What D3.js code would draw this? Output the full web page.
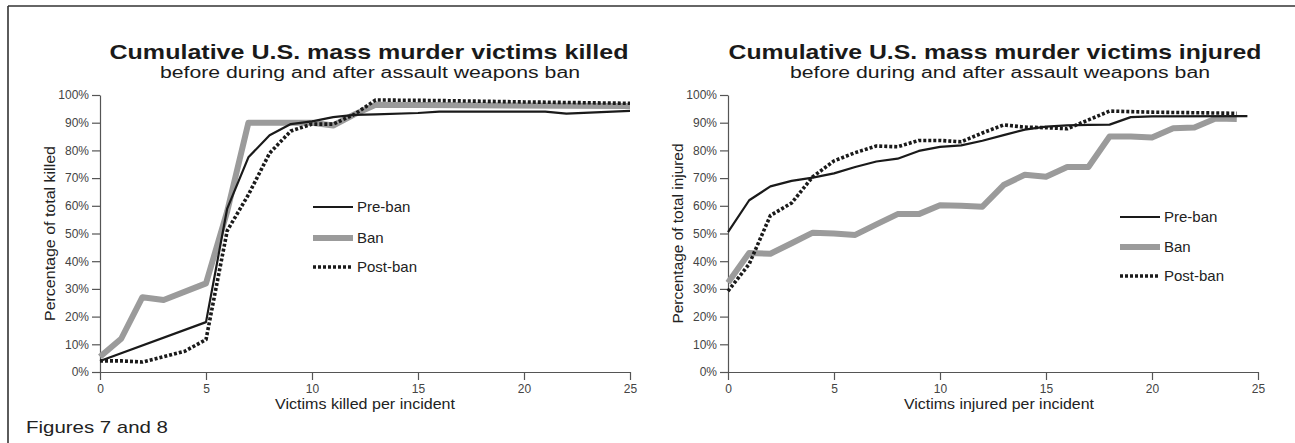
<!DOCTYPE html>
<html><head><meta charset="utf-8">
<script src="https://cdn.jsdelivr.net/npm/d3@7"></script>
<style>
body{margin:0;background:#fff}
svg{display:block}
text{font-family:"Liberation Sans",Arial,Helvetica,sans-serif}
</style>
</head><body>
<svg id="c" width="1295" height="443"></svg>
<script>
// ---- text ----
const titles = ["Cumulative U.S. mass murder victims killed", "Cumulative U.S. mass murder victims injured"];
const subtitle = "before during and after assault weapons ban";
const xTitles = ["Victims killed per incident", "Victims injured per incident"];
const yTitles = ["Percentage of total killed", "Percentage of total injured"];
const footnote = "Figures 7 and 8";
const seriesNames = ["Pre-ban", "Ban", "Post-ban"];

// ---- ticks ----
const xTicks = [0, 5, 10, 15, 20, 25];
const yTicks = [0, 10, 20, 30, 40, 50, 60, 70, 80, 90, 100];

// ---- data: [victims per incident, cumulative %] ----
const killedPreBan = [[0,4],[5,18],[6,59],[7,77.5],[8,85.5],[9,89.5],[10,90.5],[11,92],[12,92.8],[13,93],[15,93.5],[16,94],[21,94],[22,93.3],[25,94.3]];
const killedBan = [[0,5.5],[1,12],[2,27],[3,26],[5,32],[6,58],[7,90],[10,90],[11,89],[12,93],[13,96.5],[25,96]];
const killedPostBan = [[0,4],[1,4],[2,3.6],[3,5.5],[4,7.5],[5,11.7],[6,51],[7,64],[8,79],[9,87],[10,89.5],[11,89.5],[12,93],[13,98.2],[16,98],[20,97.5],[25,97]];

const injuredPreBan = [[0,50.5],[1,62],[2,67],[3,69],[4,70.2],[5,71.7],[6,74],[7,76],[8,77],[9,79.8],[10,81.3],[11,81.8],[12,83.5],[13,85.5],[14,87.5],[15,88.6],[16,89],[17,89.2],[18,89.3],[19,92],[20,92.3],[24.5,92.4]];
const injuredBan = [[0,32.2],[1,43],[2,42.7],[3,46.5],[4,50.3],[5,50],[6,49.5],[7,53.3],[8,57],[9,57],[10,60.2],[11,60],[12,59.7],[13,67.5],[14,71.2],[15,70.5],[16,74],[17,74],[18,85],[19,85],[20,84.7],[21,88],[22,88.3],[23,91.5],[24,91.3]];
const injuredPostBan = [[0,29.2],[1,39],[2,56.5],[3,61],[4,70.5],[5,76.2],[6,79.2],[7,81.6],[8,81.3],[9,83.6],[10,83.6],[11,83.1],[12,86.3],[13,89.2],[14,88.4],[15,88.2],[16,87.8],[17,91],[18,94.2],[19,94],[20,93.8],[22,93.6],[24,93.4]];

// ---- layout / style ----
const panels = [
  {x0:100, x1:630, title:titles[0], titleX:369, titleW:519, subX:370, xt:xTitles[0], xtX:365, xtW:180, yt:yTitles[0], ytX:55, ytW:175,
   series:[killedPreBan, killedBan, killedPostBan], legX:313, legY:[207,238,267]},
  {x0:728, x1:1258, title:titles[1], titleX:995, titleW:533, subX:1000, xt:xTitles[1], xtX:999, xtW:190, yt:yTitles[1], ytX:683, ytW:180,
   series:[injuredPreBan, injuredBan, injuredPostBan], legX:1120, legY:[217,247,276]}
];
const yTop = 95, yBot = 372;
const styles = [
  {stroke:"#1a1a1a", width:2.2, dash:null},
  {stroke:"#9b9b9b", width:6, dash:null},
  {stroke:"#1a1a1a", width:3.6, dash:"3,2"}
];
const drawOrder = [1, 0, 2];

const svg = d3.select("#c");

// frame (top and left rules)
svg.append("line").attr("x1",8).attr("x2",1295).attr("y1",6).attr("y2",6).attr("stroke","#333").attr("stroke-width",1.6);
svg.append("line").attr("x1",8).attr("x2",8).attr("y1",6).attr("y2",443).attr("stroke","#333").attr("stroke-width",1.6);

svg.append("text").attr("x",26).attr("y",433).attr("font-size",17).attr("fill","#222")
  .attr("textLength",142).attr("lengthAdjust","spacingAndGlyphs").text(footnote);

panels.forEach(p => {
  const x = d3.scaleLinear().domain([0,25]).range([p.x0, p.x1]);
  const y = d3.scaleLinear().domain([0,100]).range([yBot, yTop]);
  const g = svg.append("g");

  // titles
  g.append("text").attr("x",p.titleX).attr("y",59).attr("text-anchor","middle")
    .attr("font-size",21).attr("font-weight","bold").attr("fill","#1a1a1a")
    .attr("textLength",p.titleW).attr("lengthAdjust","spacingAndGlyphs").text(p.title);
  g.append("text").attr("x",p.subX).attr("y",78).attr("text-anchor","middle")
    .attr("font-size",16).attr("fill","#1a1a1a")
    .attr("textLength",420).attr("lengthAdjust","spacingAndGlyphs").text(subtitle);

  // axes
  const xa = g.append("g").attr("transform",`translate(0,${yBot})`)
    .call(d3.axisBottom(x).tickValues(xTicks).tickSize(8).tickSizeOuter(0).tickPadding(4));
  const ya = g.append("g").attr("transform",`translate(${p.x0},0)`)
    .call(d3.axisLeft(y).tickValues(yTicks).tickSize(8).tickSizeOuter(0).tickPadding(3).tickFormat(d => d + "%"));
  [xa, ya].forEach(a => {
    a.selectAll("path,line").attr("stroke","#555").attr("stroke-width",1.2);
    a.selectAll("text").attr("font-size",12).attr("fill","#444").attr("font-family","'Liberation Sans',Arial,sans-serif");
  });

  g.append("text").attr("x",p.xtX).attr("y",409).attr("text-anchor","middle")
    .attr("font-size",15).attr("fill","#222")
    .attr("textLength",p.xtW).attr("lengthAdjust","spacingAndGlyphs").text(p.xt);
  g.append("text").attr("transform",`translate(${p.ytX},${(yTop+yBot)/2}) rotate(-90)`).attr("text-anchor","middle")
    .attr("font-size",15).attr("fill","#222")
    .attr("textLength",p.ytW).attr("lengthAdjust","spacingAndGlyphs").text(p.yt);

  // lines
  const line = d3.line().x(d => x(d[0])).y(d => y(d[1]));
  drawOrder.forEach(i => {
    const s = styles[i];
    g.append("path").datum(p.series[i]).attr("d", line)
      .attr("fill","none").attr("stroke",s.stroke).attr("stroke-width",s.width)
      .attr("stroke-linejoin","round").attr("stroke-dasharray",s.dash);
  });

  // legend
  seriesNames.forEach((name, i) => {
    const s = styles[i];
    const ly = p.legY[i];
    g.append("line").attr("x1",p.legX).attr("x2",p.legX+40).attr("y1",ly).attr("y2",ly)
      .attr("stroke",s.stroke).attr("stroke-width",s.width).attr("stroke-dasharray",s.dash);
    g.append("text").attr("x",p.legX+44).attr("y",ly).attr("dy","0.36em")
      .attr("font-size",15).attr("fill","#222").text(name);
  });
});
</script>
</body></html>
